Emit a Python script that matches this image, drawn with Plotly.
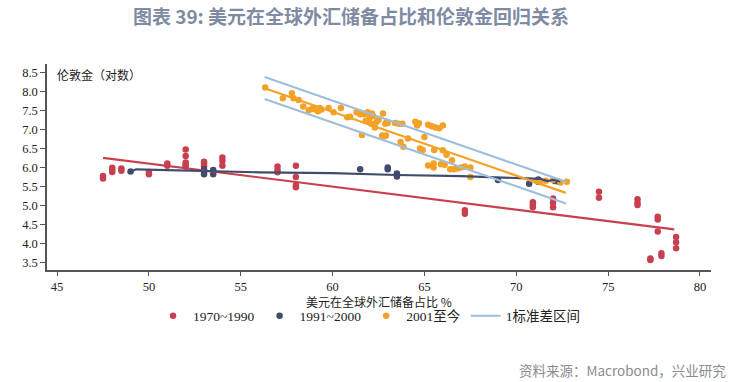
import plotly.graph_objects as go

# ---- data ----
red_x = [47.5, 47.5, 48, 48, 48, 48.5, 48.5, 50, 50, 51, 51, 52, 52, 52, 52, 52, 53, 53, 53,
         54, 54, 54, 57, 57, 57, 58, 58, 58, 58, 67.2, 67.2, 70.9, 70.9, 70.9, 72, 72, 72,
         74.5, 74.5, 76.6, 76.6, 76.6, 77.7, 77.7, 77.7, 77.3, 77.3, 77.9, 77.9, 78.7, 78.7, 78.7]
red_y = [5.77, 5.71, 5.99, 5.93, 5.88, 5.97, 5.91, 5.88, 5.82, 6.10, 6.04, 6.47, 6.30, 6.13, 6.06, 6.02, 6.15, 6.10, 6.03,
         6.26, 6.17, 6.04, 6.02, 5.93, 5.87, 6.04, 5.75, 5.53, 5.48, 4.87, 4.78, 5.08, 5.01, 4.95, 5.18, 5.07, 4.95,
         5.36, 5.20, 5.16, 5.07, 5.01, 4.70, 4.63, 4.31, 3.60, 3.56, 3.74, 3.67, 4.17, 4.03, 3.87]

navy_x = [49.0, 53, 53, 53, 53.5, 53.5, 61.5, 63, 63, 63.5, 63.5, 69, 70.7, 71.2, 71.2, 72.1, 72.3]
navy_y = [5.89, 5.95, 5.88, 5.82, 5.93, 5.82, 5.95, 6.00, 5.95, 5.84, 5.76, 5.67, 5.57, 5.68, 5.62, 5.64, 5.62]

orange_x = [56.33, 57.29, 57.78, 57.87, 58.15, 58.4, 58.7, 58.9, 59.0, 59.1, 59.2, 59.3, 59.4, 59.78, 60.05,
            60.45, 60.8, 60.95, 61.3, 61.5, 61.6, 61.7, 61.8, 61.9, 62.0, 62.1, 62.2, 62.3, 62.4, 62.5,
            62.14, 62.74, 62.8, 62.7, 62.9, 62.87, 62.95, 63.0, 63.4, 63.6, 63.8, 63.7, 63.85, 64.1, 64.5,
            64.7, 64.6, 64.76, 64.9, 65.0, 65.2, 65.4, 65.6, 65.8, 66.0, 65.53, 66.0, 66.2, 66.5, 65.2,
            65.5, 65.5, 65.9, 66.1, 66.4, 66.6, 66.8, 67.0, 67.2, 67.5, 67.5, 71.1, 71.3, 71.6, 72.0,
            72.4, 72.75]
orange_y = [8.10, 7.82, 7.95, 7.82, 7.77, 7.60, 7.50, 7.55, 7.53, 7.55, 7.48, 7.56, 7.52, 7.56, 7.45,
            7.56, 7.32, 7.33, 7.45, 7.40, 6.85, 7.40, 7.22, 7.45, 7.30, 7.15, 7.35, 7.05, 7.20, 7.25,
            7.42, 7.42, 6.82, 6.84, 6.84, 7.15, 7.20, 7.17, 7.17, 7.15, 7.15, 6.67, 6.54, 6.76, 7.20,
            7.16, 7.10, 6.50, 6.46, 6.80, 7.12, 7.08, 7.05, 7.03, 7.10, 6.46, 6.45, 6.33, 6.19, 6.05,
            6.10, 6.00, 6.08, 6.07, 5.95, 5.95, 5.97, 6.00, 6.02, 6.00, 5.75, 5.64, 5.62, 5.65, 5.67,
            5.60, 5.62]

# fitted lines
red_fit_x = [47.5, 78.6]
red_fit_y = [6.25, 4.37]
navy_fit_x = [49.0, 49.3, 56.0, 60.0, 63.5, 67.0, 70.6, 71.3, 71.7, 72.0, 72.4]
navy_fit_y = [5.89, 5.95, 5.87, 5.85, 5.80, 5.77, 5.71, 5.70, 5.64, 5.67, 5.63]
orange_fit_x = [56.3, 72.7]
orange_fit_y = [8.08, 5.33]
band_up_y = [8.38, 5.62]
band_lo_y = [7.80, 5.05]

series_names = ["1970~1990", "1991~2000", "2001至今", "1标准差区间"]
x_ticks = [45, 50, 55, 60, 65, 70, 75, 80]
y_ticks = [3.5, 4.0, 4.5, 5.0, 5.5, 6.0, 6.5, 7.0, 7.5, 8.0, 8.5]

RED = "#c8404f"
NAVY = "#414b6c"
ORANGE = "#f2a227"
BLUE = "#9fbedb"

fig = go.Figure()
for xs, ys, c, n in [(red_x, red_y, RED, series_names[0]),
                     (navy_x, navy_y, NAVY, series_names[1]),
                     (orange_x, orange_y, ORANGE, series_names[2])]:
    fig.add_trace(go.Scatter(x=xs, y=ys, mode="markers", name=n,
                             marker=dict(color=c, size=6.5, line=dict(width=0))))

fig.add_trace(go.Scatter(x=red_fit_x, y=red_fit_y, mode="lines", showlegend=False,
                         line=dict(color=RED, width=2.2)))
fig.add_trace(go.Scatter(x=navy_fit_x, y=navy_fit_y, mode="lines", showlegend=False,
                         line=dict(color=NAVY, width=2.2)))
fig.add_trace(go.Scatter(x=orange_fit_x, y=orange_fit_y, mode="lines", showlegend=False,
                         line=dict(color=ORANGE, width=2.2)))
fig.add_trace(go.Scatter(x=orange_fit_x, y=band_up_y, mode="lines", name=series_names[3],
                         legendgroup="band", line=dict(color=BLUE, width=2.2)))
fig.add_trace(go.Scatter(x=orange_fit_x, y=band_lo_y, mode="lines", showlegend=False,
                         legendgroup="band", line=dict(color=BLUE, width=2.2)))

tickfont = dict(family="Liberation Serif, Noto Sans CJK SC", size=12.5, color="#222")
fig.update_layout(
    width=750, height=382,
    margin=dict(l=47, r=39, t=64, b=112),
    paper_bgcolor="white", plot_bgcolor="white",
    showlegend=True,
    legend=dict(orientation="h", x=0.485, xanchor="center", y=-0.148, yanchor="top",
                font=dict(family="Liberation Serif, Noto Sans CJK SC", size=13.5, color="#222"),
                itemwidth=30, tracegroupgap=0, itemsizing="trace"),
    title=dict(text="<b>图表 39: 美元在全球外汇储备占比和伦敦金回归关系</b>",
               x=0.468, xanchor="center", y=0.955, yanchor="middle",
               font=dict(family="Noto Sans CJK SC", size=19, color="#7f8ba3")),
    xaxis=dict(range=[44.45, 80.6], tickvals=x_ticks, showgrid=False, zeroline=False,
               showline=True, linecolor="#555", linewidth=1.5, ticks="outside",
               ticklen=4, tickcolor="#555", tickfont=tickfont, automargin=False),
    yaxis=dict(range=[3.3, 8.72], tickvals=y_ticks, tickformat=".1f", showgrid=False, zeroline=False,
               showline=True, linecolor="#555", linewidth=1.5, ticks="outside",
               ticklen=5, tickcolor="#555", tickfont=tickfont, automargin=False),
    annotations=[
        dict(text="伦敦金（对数）", xref="paper", yref="paper", x=0.012, y=1.0,
             xanchor="left", yanchor="top", showarrow=False,
             font=dict(family="Noto Sans CJK SC", size=12, color="#222")),
        dict(text="美元在全球外汇储备占比 %", xref="paper", yref="paper", x=0.5, y=-0.1,
             xanchor="center", yanchor="top", showarrow=False,
             font=dict(family="Noto Sans CJK SC", size=12, color="#222")),
        dict(text="资料来源：Macrobond，兴业研究", xref="paper", yref="paper", x=1.0256, y=-0.485,
             xanchor="right", yanchor="middle", showarrow=False,
             font=dict(family="Noto Sans CJK SC", size=13.5, color="#8c8c8c")),
    ],
)

fig.write_html("out.html", config={"displayModeBar": False},
               post_script="document.body.style.margin='0';")
